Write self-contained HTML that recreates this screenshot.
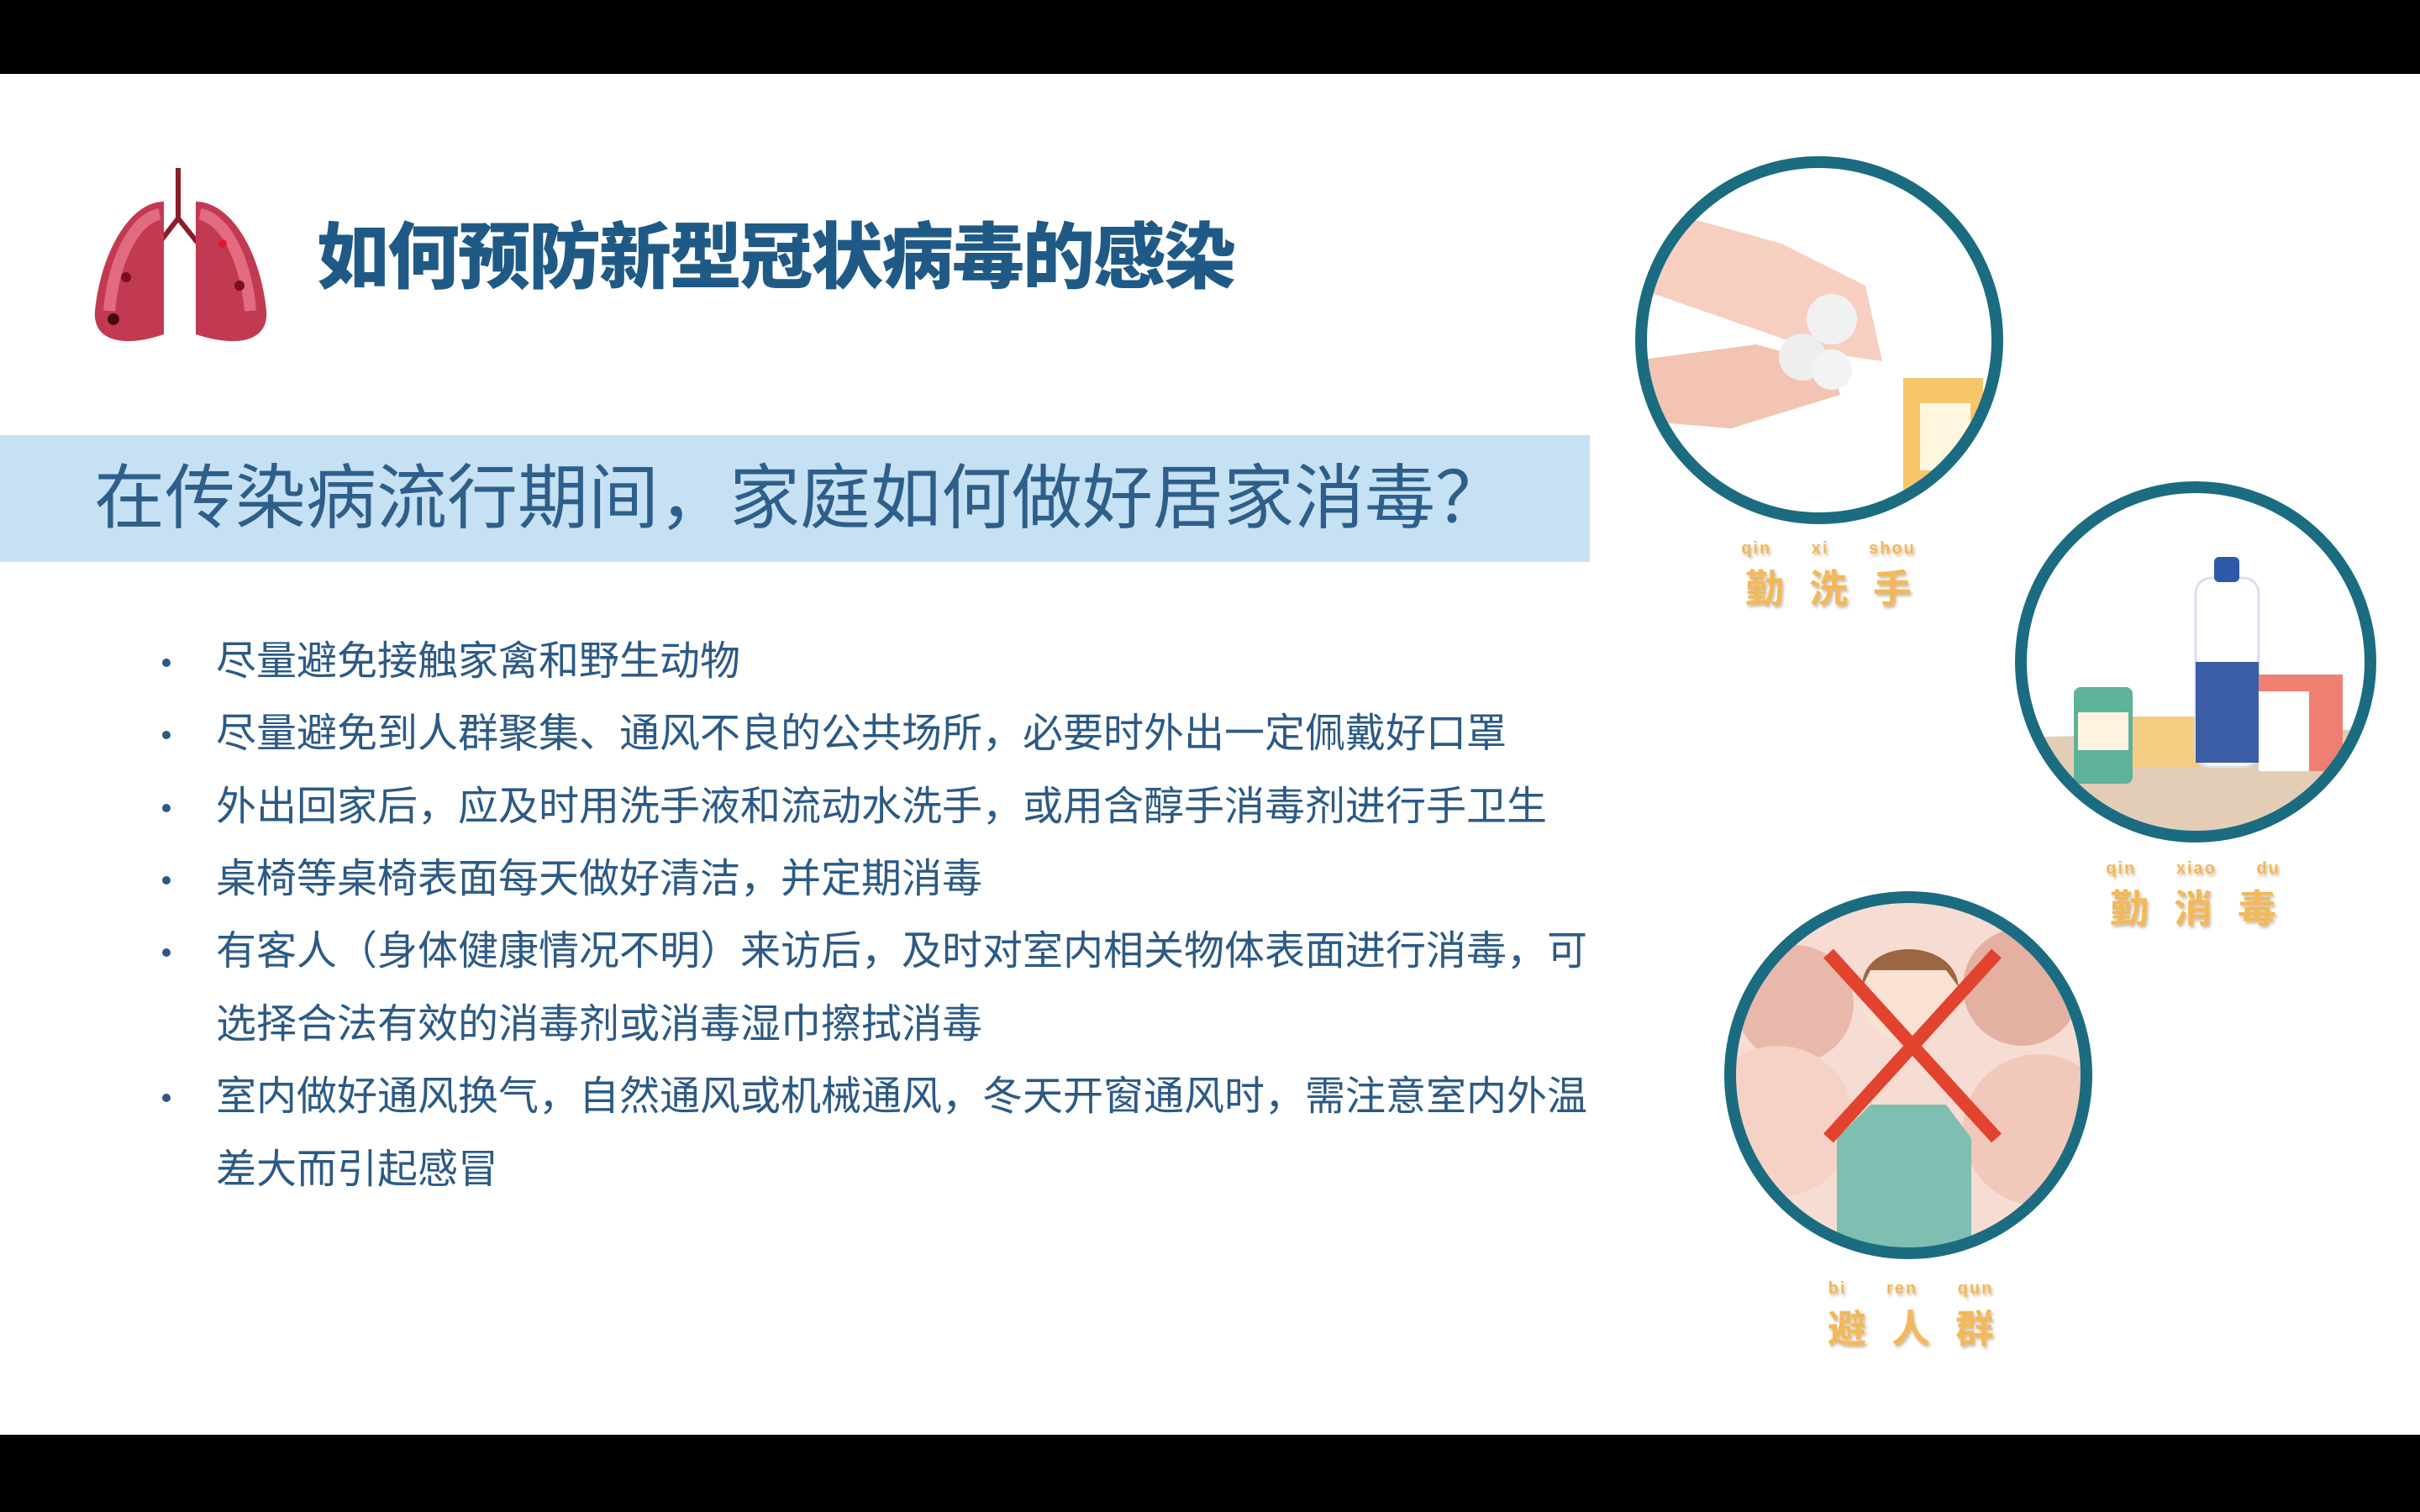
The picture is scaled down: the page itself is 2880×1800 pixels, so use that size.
<!DOCTYPE html>
<html><head><meta charset="utf-8"><style>
*{margin:0;padding:0;box-sizing:border-box}
body{width:2880px;height:1800px;background:#fff;position:relative;overflow:hidden;font-family:"Liberation Sans","Noto Sans CJK SC",sans-serif}
.bar{position:absolute;left:0;width:2880px;background:#000}
.abs{position:absolute}
.title{left:377px;top:250px;font-size:86px;font-weight:900;color:#1f5a86;line-height:114px;white-space:nowrap;letter-spacing:-2px}
.band{left:0;top:518px;width:1892px;height:151px;background:#c6e1f3}
.band span{position:absolute;left:112px;top:26px;font-size:84px;line-height:98px;color:#2d5f8a;white-space:nowrap}
.line{position:absolute;left:257px;font-size:48px;line-height:60px;color:#2c5a85;white-space:nowrap}
.dot{position:absolute;left:193px;width:10px;height:10px;border-radius:50%;background:#2c5a85}
.lbl{position:absolute;text-align:center;color:#f2b85a;font-weight:bold;text-shadow:2px 3px 3px rgba(150,110,50,.45);white-space:nowrap}
.py{font-size:20px;letter-spacing:2px;word-spacing:40px;white-space:nowrap}
.cn{font-size:46px;letter-spacing:30px;white-space:nowrap;padding-left:30px}
</style></head><body>
<div class="bar" style="top:0;height:88px"></div>
<div class="bar" style="top:1708px;height:92px"></div>

<svg class="abs" style="left:105px;top:200px" width="220" height="220" viewBox="0 0 220 220">
<path d="M107 0 V60 L80 95 M107 60 L135 95" stroke="#8c1c2c" stroke-width="6" fill="none"/>
<path d="M90 40 C50 40 15 100 8 170 C5 205 40 215 90 198 Z" fill="#c23a52"/>
<path d="M128 40 C170 40 205 100 212 170 C215 205 180 215 128 198 Z" fill="#c23a52"/>
<path d="M85 55 C55 60 30 110 25 170" stroke="#e36b80" stroke-width="14" fill="none"/>
<path d="M133 55 C163 60 188 110 193 170" stroke="#e36b80" stroke-width="14" fill="none"/>
<circle cx="45" cy="130" r="6" fill="#7a0f1e"/><circle cx="180" cy="140" r="6" fill="#7a0f1e"/><circle cx="30" cy="180" r="7" fill="#4a0a14"/><circle cx="160" cy="90" r="5" fill="#e01a2e"/>
</svg>
<div class="abs title">如何预防新型冠状病毒的感染</div>

<div class="abs band"><span>在传染病流行期间，家庭如何做好居家消毒？</span></div>

<div>
<div class="dot" style="top:784px"></div>
<div class="line" style="top:758px">尽量避免接触家禽和野生动物</div>
<div class="dot" style="top:870px"></div>
<div class="line" style="top:844px">尽量避免到人群聚集、通风不良的公共场所，必要时外出一定佩戴好口罩</div>
<div class="dot" style="top:957px"></div>
<div class="line" style="top:931px">外出回家后，应及时用洗手液和流动水洗手，或用含醇手消毒剂进行手卫生</div>
<div class="dot" style="top:1043px"></div>
<div class="line" style="top:1017px">桌椅等桌椅表面每天做好清洁，并定期消毒</div>
<div class="dot" style="top:1129px"></div>
<div class="line" style="top:1103px">有客人（身体健康情况不明）来访后，及时对室内相关物体表面进行消毒，可</div>
<div class="line" style="top:1190px">选择合法有效的消毒剂或消毒湿巾擦拭消毒</div>
<div class="dot" style="top:1302px"></div>
<div class="line" style="top:1276px">室内做好通风换气，自然通风或机械通风，冬天开窗通风时，需注意室内外温</div>
<div class="line" style="top:1363px">差大而引起感冒</div>
</div>

<svg class="abs" style="left:1940px;top:180px" width="450" height="450" viewBox="0 0 450 450">
<defs><clipPath id="c1"><circle cx="225" cy="225" r="212"/></clipPath></defs>
<g clip-path="url(#c1)">
<path d="M0 60 L180 110 L280 160 L300 250 L230 240 L0 160 Z" fill="#f6cfc0"/>
<path d="M0 250 L150 230 L240 255 L250 290 L120 330 L0 320 Z" fill="#f3c4b3"/>
<circle cx="240" cy="200" r="30" fill="#f1f1f1"/><circle cx="205" cy="245" r="28" fill="#eee"/><circle cx="240" cy="260" r="24" fill="#f3f3f3"/>
<rect x="325" y="270" width="95" height="190" fill="#f7c66a"/><rect x="345" y="300" width="60" height="80" fill="#fff6e0"/>
</g>
<circle cx="225" cy="225" r="212" fill="none" stroke="#1b6c80" stroke-width="14"/>
</svg>
<div class="lbl" style="left:2026px;top:642px;width:300px"><div class="py">qin xi shou</div><div class="cn">勤洗手</div></div>

<svg class="abs" style="left:2393px;top:568px" width="440" height="440" viewBox="0 0 440 440">
<defs><clipPath id="c2"><circle cx="220" cy="220" r="208"/></clipPath></defs>
<g clip-path="url(#c2)">
<path d="M0 310 L440 300 L440 440 L0 440 Z" fill="#e4cdb7"/>
<rect x="75" y="250" width="70" height="115" rx="8" fill="#5cb39a"/><rect x="80" y="280" width="60" height="45" fill="#fff3e0"/>
<rect x="145" y="285" width="80" height="60" fill="#f5cc82"/>
<rect x="220" y="120" width="75" height="225" rx="18" fill="#fff" stroke="#dde" stroke-width="3"/><rect x="220" y="220" width="75" height="120" fill="#3b5da6"/><rect x="242" y="95" width="30" height="30" rx="6" fill="#2e5aa8"/>
<rect x="295" y="235" width="100" height="115" fill="#f07f73"/><rect x="295" y="255" width="60" height="95" fill="#fff"/>
</g>
<circle cx="220" cy="220" r="208" fill="none" stroke="#1b6c80" stroke-width="14"/>
</svg>
<div class="lbl" style="left:2460px;top:1023px;width:300px"><div class="py">qin xiao du</div><div class="cn">勤消毒</div></div>

<svg class="abs" style="left:2046px;top:1055px" width="450" height="450" viewBox="0 0 450 450">
<defs><clipPath id="c3"><circle cx="225" cy="225" r="212"/></clipPath></defs>
<g clip-path="url(#c3)">
<rect x="0" y="0" width="450" height="450" fill="#f7dcd3"/>
<circle cx="90" cy="140" r="70" fill="#e8b8ab"/><circle cx="360" cy="120" r="70" fill="#e3b0a2"/>
<circle cx="70" cy="280" r="90" fill="#f6d2c6"/><circle cx="380" cy="290" r="90" fill="#f2c8bb"/>
<path d="M140 300 L180 260 L270 260 L300 300 L300 450 L140 450 Z" fill="#7fbfb1"/>
<circle cx="225" cy="130" r="55" fill="#fbe1d2"/><path d="M170 120 C170 60 280 60 285 120 L270 100 L180 100 Z" fill="#9c6640"/>
<path d="M130 80 L330 300 M330 80 L130 300" stroke="#e2432f" stroke-width="16"/>
</g>
<circle cx="225" cy="225" r="212" fill="none" stroke="#1b6c80" stroke-width="14"/>
</svg>
<div class="lbl" style="left:2124px;top:1523px;width:300px"><div class="py">bi ren qun</div><div class="cn">避人群</div></div>
</body></html>
